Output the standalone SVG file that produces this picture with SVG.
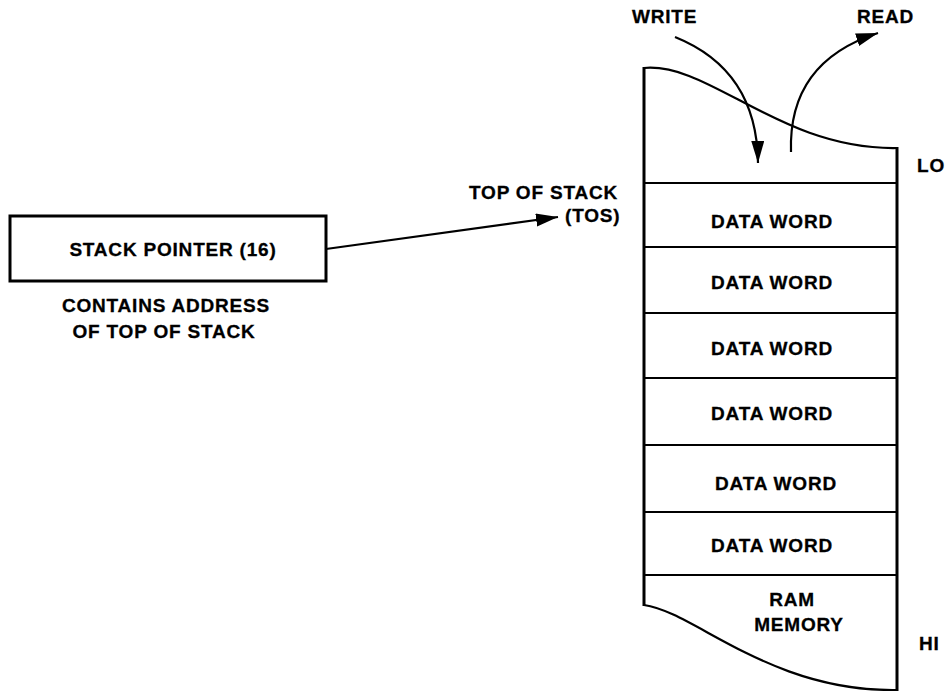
<svg xmlns="http://www.w3.org/2000/svg" width="950" height="691" viewBox="0 0 950 691">
  <style>
    .lbl { font-family: "Liberation Sans", Arial, sans-serif; font-weight: bold; font-size: 19px; letter-spacing: 0.8px; fill: #000; stroke: #000; stroke-width: 0.3; }
    .mid { text-anchor: middle; }
    .ln { fill: none; stroke: #000; stroke-width: 2.2; }
    .edge { fill: none; stroke: #000; stroke-width: 3; }
    .box { fill: #fff; stroke: #000; stroke-width: 3; }
  </style>
  <defs>
    <marker id="head" markerUnits="userSpaceOnUse" markerWidth="24" markerHeight="14" refX="22" refY="6.5" orient="auto">
      <path d="M0,0 L22,6.5 L0,13 z" fill="#000"/>
    </marker>
  </defs>
  <rect width="950" height="691" fill="#fff"/>

  <!-- stack pointer register -->
  <g id="stack-pointer">
    <rect class="box" x="10" y="216" width="316" height="65"/>
    <text class="lbl mid" x="173" y="256">STACK POINTER (16)</text>
  </g>
  <g id="sp-note">
    <text class="lbl mid" x="166" y="312">CONTAINS ADDRESS</text>
    <text class="lbl mid" x="164" y="338">OF TOP OF STACK</text>
  </g>

  <!-- memory stack column -->
  <g id="stack">
    <path class="ln" d="M644,68 C710,62 780,150 897,148"/>
    <path class="ln" d="M644,605 C695,612 770,692 897,690"/>
    <line class="edge" x1="644" y1="67" x2="644" y2="606"/>
    <line class="edge" x1="897" y1="147" x2="897" y2="691"/>
    <g class="ln">
      <line x1="644" y1="183" x2="897" y2="183"/>
      <line x1="644" y1="247" x2="897" y2="247"/>
      <line x1="644" y1="313" x2="897" y2="313"/>
      <line x1="644" y1="378" x2="897" y2="378"/>
      <line x1="644" y1="445" x2="897" y2="445"/>
      <line x1="644" y1="512" x2="897" y2="512"/>
      <line x1="644" y1="575" x2="897" y2="575"/>
    </g>
  </g>
  <g id="word-1"><text class="lbl mid" x="772" y="228">DATA WORD</text></g>
  <g id="word-2"><text class="lbl mid" x="772" y="289">DATA WORD</text></g>
  <g id="word-3"><text class="lbl mid" x="772" y="355">DATA WORD</text></g>
  <g id="word-4"><text class="lbl mid" x="772" y="420">DATA WORD</text></g>
  <g id="word-5"><text class="lbl mid" x="776" y="490">DATA WORD</text></g>
  <g id="word-6"><text class="lbl mid" x="772" y="552">DATA WORD</text></g>
  <g id="ram">
    <text class="lbl mid" x="792" y="606">RAM</text>
    <text class="lbl mid" x="799" y="631">MEMORY</text>
  </g>

  <!-- labels -->
  <g id="tos">
    <text class="lbl" x="469" y="199">TOP OF STACK</text>
    <text class="lbl" x="565" y="222">(TOS)</text>
  </g>
  <g id="write"><text class="lbl" x="632" y="23">WRITE</text></g>
  <g id="read"><text class="lbl" x="857" y="23">READ</text></g>
  <g id="lo"><text class="lbl" x="917" y="172">LO</text></g>
  <g id="hi"><text class="lbl" x="919" y="650">HI</text></g>

  <!-- connectors -->
  <g id="connectors">
    <path class="ln" d="M326,249 L558,217" marker-end="url(#head)"/>
    <path class="ln" d="M675,37 Q757,70 758,163" marker-end="url(#head)"/>
    <path class="ln" d="M791,152 Q788,62 878,33" marker-end="url(#head)"/>
  </g>
</svg>
